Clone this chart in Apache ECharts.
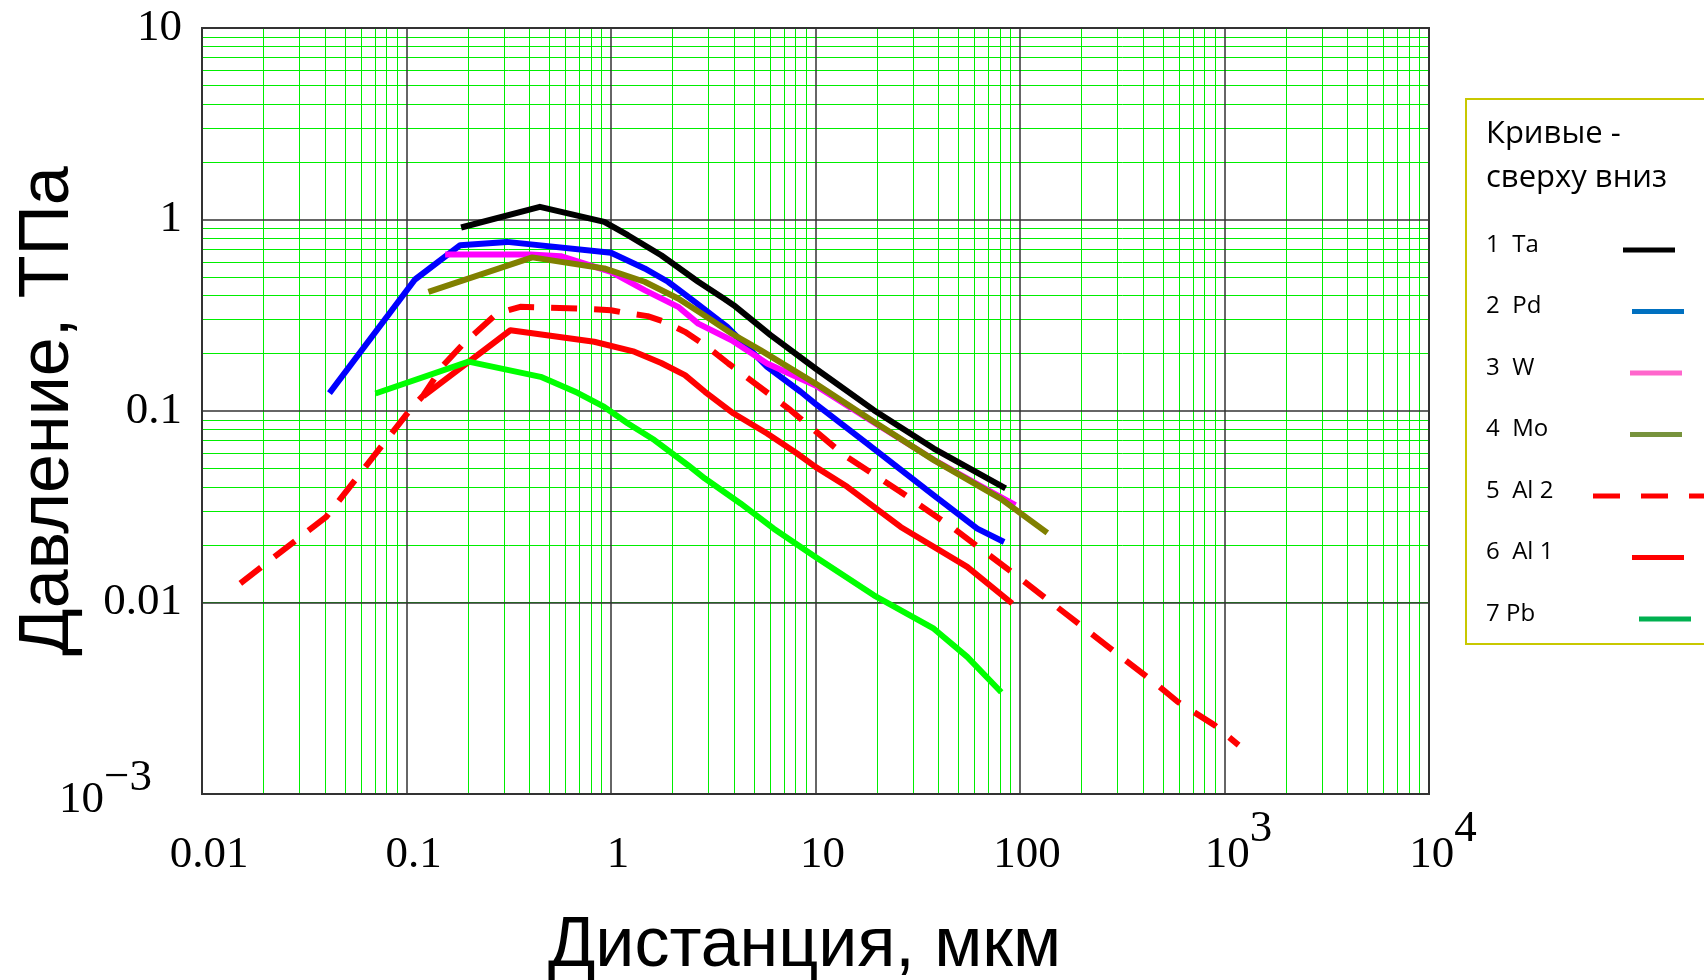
<!DOCTYPE html>
<html>
<head>
<meta charset="utf-8">
<title>Давление – дистанция</title>
<script src="https://cdn.jsdelivr.net/npm/echarts@6/dist/echarts.min.js"></script>
<style>
  html, body { margin: 0; padding: 0; background: #fff; }
  #chart { width: 1704px; height: 980px; }
</style>
</head>
<body>
<div id="chart"></div>
<script>
const ta = [[0.185, 0.908], [0.449, 1.164], [0.927, 0.972], [1.21, 0.828], [1.76, 0.651], [2.67, 0.473],
  [3.56, 0.387], [3.98, 0.357], [6.03, 0.249], [10, 0.1667], [19.3, 0.101], [37.9, 0.0637], [85, 0.0394]]
const pd = [[0.042, 0.124], [0.11, 0.486], [0.183, 0.734], [0.31, 0.764], [1.0, 0.67], [1.46, 0.555],
  [1.9, 0.473], [2.57, 0.371], [3.7, 0.275], [5.8, 0.17], [8.46, 0.126], [10, 0.109], [17.9, 0.0676],
  [37.9, 0.0363], [61.8, 0.0243], [83.6, 0.0207]]
const w = [[0.1545, 0.656], [0.404, 0.656], [0.568, 0.643], [1.0, 0.533], [1.46, 0.428], [2.13, 0.35],
  [2.67, 0.286], [3.89, 0.234], [5.8, 0.177], [10, 0.136], [19.3, 0.087], [37.9, 0.0556], [70, 0.0385], [95, 0.0322]]
const mo = [[0.128, 0.419], [0.412, 0.634], [0.927, 0.555], [1.46, 0.473], [2.13, 0.387], [2.77, 0.323],
  [3.89, 0.254], [5.38, 0.208], [10, 0.139], [19.3, 0.0878], [37.9, 0.0554], [80.4, 0.0349], [100.8, 0.0292], [136, 0.0231]]
const al2 = [[0.0154, 0.0126], [0.0405, 0.028], [0.1038, 0.101], [0.121, 0.121], [0.151, 0.173], [0.19, 0.225],
  [0.277, 0.323], [0.36, 0.35], [0.712, 0.343], [1.0, 0.336], [1.16, 0.326], [1.51, 0.313], [1.83, 0.292],
  [2.3, 0.259], [2.88, 0.221], [3.75, 0.177], [7.55, 0.101], [13.8, 0.0588], [26.1, 0.0378], [47.5, 0.0243],
  [100.8, 0.0133], [471, 0.0037], [590, 0.00303], [893, 0.00229], [1172, 0.0018]]
const al1 = [[0.121, 0.1195], [0.322, 0.264], [0.828, 0.23], [1.3, 0.204], [1.76, 0.178], [2.3, 0.154],
  [2.88, 0.126], [3.98, 0.097], [5.8, 0.0763], [8.13, 0.06], [10, 0.0511], [14.3, 0.0402], [26.1, 0.0248],
  [55.2, 0.01535], [91.6, 0.00988]]
const pb = [[0.0705, 0.1234], [0.201, 0.181], [0.453, 0.1508], [0.686, 0.1244], [0.927, 0.105], [1.21, 0.0861],
  [1.63, 0.0705], [2.38, 0.0521], [2.88, 0.0444], [4.3, 0.0329], [6.25, 0.0243], [10, 0.0173], [19.3, 0.0109],
  [37.9, 0.0073], [55.2, 0.0052], [81, 0.0034]]

const curveNames = ['1  Ta', '2  Pd', '3  W', '4  Mo', '5  Al 2', '6  Al 1', '7 Pb']
const lineColors = ['#000000', '#0000ff', '#ff00ff', '#808000', '#ff0000', '#ff0000', '#00ff00']
// the legend swatches in the original use other shades than the curves
const legendColors = ['#000000', '#0070c0', '#ff66cc', '#77933c', '#ff0000', '#ff0000', '#00b050']

// tick labels, by decade exponent
const xTickLabels = ['{b|0.01}', '{b|0.1}', '{b|1}', '{b|10}', '{b|100}', '{bs|10}{s|3}', '{bs|10}{s|4}'] // 10^-2 .. 10^4
const yTickLabels = ['{yb|10}{ys|−3}', '0.01', '0.1', '1', '10'] // 10^-3 .. 10^1

const serif = "'Liberation Serif', 'Times New Roman', serif"
const sans = "'Liberation Sans', Arial, sans-serif"

// minor grid lines at 2..9 of every decade
const minorX = []
const minorY = []
for (let e = -2; e < 4; e++) for (let m = 2; m <= 9; m++) minorX.push(m * Math.pow(10, e))
for (let e = -3; e < 1; e++) for (let m = 2; m <= 9; m++) minorY.push(m * Math.pow(10, e))

const chart = echarts.init(document.getElementById('chart'))

const curves = [ta, pd, w, mo, al2, al1, pb]
const series = curves.map((d, i) => ({
  name: curveNames[i],
  type: 'line',
  data: d,
  symbol: 'none',
  silent: true,
  lineStyle: { color: lineColors[i], width: 6, type: i === 4 ? [26, 17] : 'solid', join: 'round' },
}))
series.unshift({
  type: 'line',
  data: [],
  silent: true,
  markLine: {
    silent: true,
    z: -1,
    symbol: 'none',
    label: { show: false },
    lineStyle: { color: '#00ee00', width: 1, type: 'solid' },
    data: minorX.map(v => ({ xAxis: v })).concat(minorY.map(v => ({ yAxis: v }))),
  },
})

// legend box, drawn by hand
const legendTop = 245
const legendStep = 61.5
const legendFont = "'Open Sans', sans-serif"
const graphics = [
  { type: 'rect', shape: { x: 1466, y: 99, width: 300, height: 545 }, style: { fill: '#fff', stroke: '#c8c800', lineWidth: 2 }, z: 10 },
  { type: 'text', x: 1486, y: 134, style: { text: 'Кривые -', font: '31px ' + legendFont, fill: '#000', textVerticalAlign: 'middle' }, z: 11 },
  { type: 'text', x: 1486, y: 178, style: { text: 'сверху вниз', font: '31px ' + legendFont, fill: '#000', textVerticalAlign: 'middle' }, z: 11 },
]
const swatchX = [1623, 1632, 1630, 1630, 1593, 1632, 1639]
curveNames.forEach((n, i) => {
  const y = legendTop + i * legendStep
  graphics.push({ type: 'text', x: 1486, y: y, style: { text: n, font: '24px ' + legendFont, fill: '#000', textVerticalAlign: 'middle' }, z: 11 })
  const x1 = swatchX[i]
  const x2 = i === 4 ? 1720 : x1 + 52
  graphics.push({ type: 'line', shape: { x1: x1, y1: y + 5, x2: x2, y2: y + 5 },
    style: { stroke: legendColors[i], lineWidth: 5, lineDash: i === 4 ? [27, 21] : null }, z: 11 })
})

chart.setOption({
  animation: false,
  backgroundColor: '#fff',
  grid: {
    left: 202, top: 28, width: 1227, height: 766, outerBoundsMode: 'none', containLabel: false,
    show: true, borderColor: '#333', borderWidth: 2, backgroundColor: 'transparent',
  },
  xAxis: {
    type: 'log', logBase: 10, min: 0.01, max: 10000, splitNumber: 6,
    name: 'Дистанция, мкм', nameLocation: 'middle', nameGap: 118, nameMoveOverlap: false,
    nameTextStyle: { fontFamily: sans, fontSize: 70, color: '#000', padding: [0, 22, 0, 0] },
    axisLine: { show: false }, axisTick: { show: false },
    splitLine: { show: true, lineStyle: { color: '#333', width: 1.5 } },
    axisLabel: {
      interval: 0, showMinLabel: true, showMaxLabel: true, margin: 110, verticalAlign: 'bottom',
      padding: [0, 0, 0, 14],
      formatter: v => xTickLabels[Math.round(Math.log10(v)) + 2],
      rich: {
        b: { fontFamily: serif, fontSize: 45, lineHeight: 97, color: '#000' },
        bs: { fontFamily: serif, fontSize: 45, lineHeight: 97, color: '#000', padding: [0, 0, 0, 14] },
        s: { fontFamily: serif, fontSize: 45, lineHeight: 22, color: '#000', verticalAlign: 'top' },
      },
    },
  },
  yAxis: {
    type: 'log', logBase: 10, min: 0.001, max: 10, splitNumber: 4,
    name: 'Давление, ТПа', nameLocation: 'middle', nameGap: 118, nameMoveOverlap: false,
    nameTextStyle: { fontFamily: sans, fontSize: 70, color: '#000' },
    axisLine: { show: false }, axisTick: { show: false },
    splitLine: { show: true, lineStyle: { color: '#333', width: 1.5 } },
    axisLabel: {
      interval: 0, showMinLabel: true, showMaxLabel: true, margin: 20,
      fontFamily: serif, fontSize: 45, color: '#000',
      formatter: v => yTickLabels[Math.round(Math.log10(v)) + 3],
      rich: {
        yb: { fontFamily: serif, fontSize: 45, lineHeight: 76, color: '#000', padding: [12, 0, 0, 0] },
        ys: { fontFamily: serif, fontSize: 45, lineHeight: 22, color: '#000', verticalAlign: 'top', padding: [0, 30, 0, 0] },
      },
    },
  },
  graphic: graphics,
  series: series,
})
</script>
</body>
</html>
